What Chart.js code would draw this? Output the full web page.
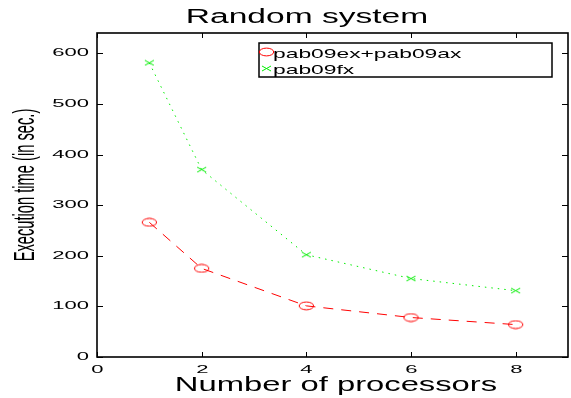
<!DOCTYPE html>
<html>
<head>
<meta charset="utf-8">
<script src="https://cdn.jsdelivr.net/npm/chart.js@4"></script>
<style>
    html, body { margin: 0; padding: 0; background: #fff; overflow: hidden; }
    #wrap { position: relative; width: 575px; height: 398px; }
</style>
</head>
<body>
<div id="wrap"><canvas id="timeChart"></canvas></div>
<script>
// Data
const procs = [1, 2, 4, 6, 8];
const exAxTimes = [266, 175, 101, 78, 64];
const fxTimes = [581, 370, 202, 155, 131];
const xTicks = [0, 2, 4, 6, 8];
const yTicks = [0, 100, 200, 300, 400, 500, 600];
const seriesLabels = ['pab09ex+pab09ax', 'pab09fx'];

const FONT = '"Liberation Sans", Arial, sans-serif';

// markers look squashed in the original, so build them as small canvases
function makeEllipse() {
    const c = document.createElement('canvas');
    c.width = 17; c.height = 10;
    const g = c.getContext('2d');
    g.strokeStyle = '#ff0000';
    g.lineWidth = 1;
    g.beginPath();
    g.ellipse(8.5, 5, 7.2, 3.9, 0, 0, Math.PI * 2);
    g.stroke();
    return c;
}
function makeCross() {
    const c = document.createElement('canvas');
    c.width = 11; c.height = 7;
    const g = c.getContext('2d');
    g.strokeStyle = '#00ee00';
    g.lineWidth = 1;
    g.beginPath();
    g.moveTo(1, 1); g.lineTo(10, 6);
    g.moveTo(1, 6); g.lineTo(10, 1);
    g.stroke();
    return c;
}
const ellipseMark = makeEllipse();
const crossMark = makeCross();

function stretchedText(ctx, text, x, y, size, sx, align, baseline) {
    ctx.save();
    ctx.translate(x, y);
    ctx.scale(sx, 1);
    ctx.font = size + 'px ' + FONT;
    ctx.textAlign = align;
    ctx.textBaseline = baseline;
    ctx.fillStyle = '#000';
    ctx.fillText(text, 0, 0);
    ctx.restore();
}

// Axes box, inward ticks, labels and legend drawn the MATLAB way
const matlabFrame = {
    id: 'matlabFrame',
    afterDraw(chart) {
        const ctx = chart.ctx;
        const xs = chart.scales.x, ys = chart.scales.y;
        const a = chart.chartArea;

        ctx.save();
        ctx.strokeStyle = '#000';
        ctx.lineWidth = 1;
        xTicks.forEach(function (v) {
            const px = Math.round(xs.getPixelForValue(v)) + 0.5;
            ctx.beginPath();
            ctx.moveTo(px, a.bottom); ctx.lineTo(px, a.bottom - 5);
            ctx.moveTo(px, a.top); ctx.lineTo(px, a.top + 5);
            ctx.stroke();
            stretchedText(ctx, String(v), px, 370, 10.5, 2.1, 'center', 'middle');
        });
        yTicks.forEach(function (v) {
            const py = Math.round(ys.getPixelForValue(v)) + 0.5;
            ctx.beginPath();
            ctx.moveTo(a.left, py); ctx.lineTo(a.left + 6, py);
            ctx.moveTo(a.right, py); ctx.lineTo(a.right - 6, py);
            ctx.stroke();
            stretchedText(ctx, String(v), 89, py, 10.5, 2.1, 'right', 'middle');
        });

        ctx.lineWidth = 1.6;
        ctx.strokeRect(a.left, a.top, a.right - a.left, a.bottom - a.top);

        // title and axis titles
        stretchedText(ctx, 'Random system', 307, 23, 19.5, 1.72, 'center', 'alphabetic');
        stretchedText(ctx, 'Number of processors', 336, 391, 19.5, 1.68, 'center', 'alphabetic');
        ctx.save();
        ctx.translate(34, 185);
        ctx.rotate(-Math.PI / 2);
        ctx.scale(1, 1.95);
        ctx.font = '14.7px ' + FONT;
        ctx.textAlign = 'center';
        ctx.textBaseline = 'alphabetic';
        ctx.fillStyle = '#000';
        ctx.fillText('Execution time (in sec.)', 0, 0);
        ctx.restore();

        // legend
        ctx.fillStyle = '#fff';
        ctx.fillRect(259, 43, 293, 34);
        ctx.lineWidth = 1.5;
        ctx.strokeRect(259, 43, 293, 34);
        ctx.drawImage(ellipseMark, 258, 47);
        ctx.drawImage(crossMark, 261, 65);
        stretchedText(ctx, seriesLabels[0], 273, 57.5, 13.5, 1.69, 'left', 'alphabetic');
        stretchedText(ctx, seriesLabels[1], 273, 73.5, 13.5, 1.69, 'left', 'alphabetic');
        ctx.restore();
    }
};

const ctx = document.getElementById('timeChart').getContext('2d');
const timeChart = new Chart(ctx, {
    type: 'line',
    data: {
        datasets: [{
            label: seriesLabels[0],
            data: procs.map((p, i) => ({ x: p, y: exAxTimes[i] })),
            borderColor: '#ff0000',
            borderWidth: 1,
            borderDash: [10, 8],
            pointStyle: ellipseMark,
            pointRadius: 6,
            fill: false,
            tension: 0
        }, {
            label: seriesLabels[1],
            data: procs.map((p, i) => ({ x: p, y: fxTimes[i] })),
            borderColor: '#00ee00',
            borderWidth: 1,
            borderDash: [1.5, 5],
            pointStyle: crossMark,
            pointRadius: 5,
            fill: false,
            tension: 0
        }]
    },
    options: {
        responsive: true,
        maintainAspectRatio: false,
        animation: false,
        layout: { padding: { left: 97, right: 2, top: 33, bottom: 41 } },
        plugins: {
            legend: { display: false },
            title: { display: false },
            tooltip: { enabled: false }
        },
        scales: {
            x: {
                type: 'linear',
                min: 0,
                max: 9,
                ticks: { display: false, stepSize: 2 },
                grid: { display: false },
                border: { display: false },
                afterFit: function (s) { s.height = 0; }
            },
            y: {
                min: 0,
                max: 640,
                ticks: { display: false, stepSize: 100 },
                grid: { display: false },
                border: { display: false },
                afterFit: function (s) { s.width = 0; }
            }
        }
    },
    plugins: [matlabFrame]
});
</script>
</body>
</html>
